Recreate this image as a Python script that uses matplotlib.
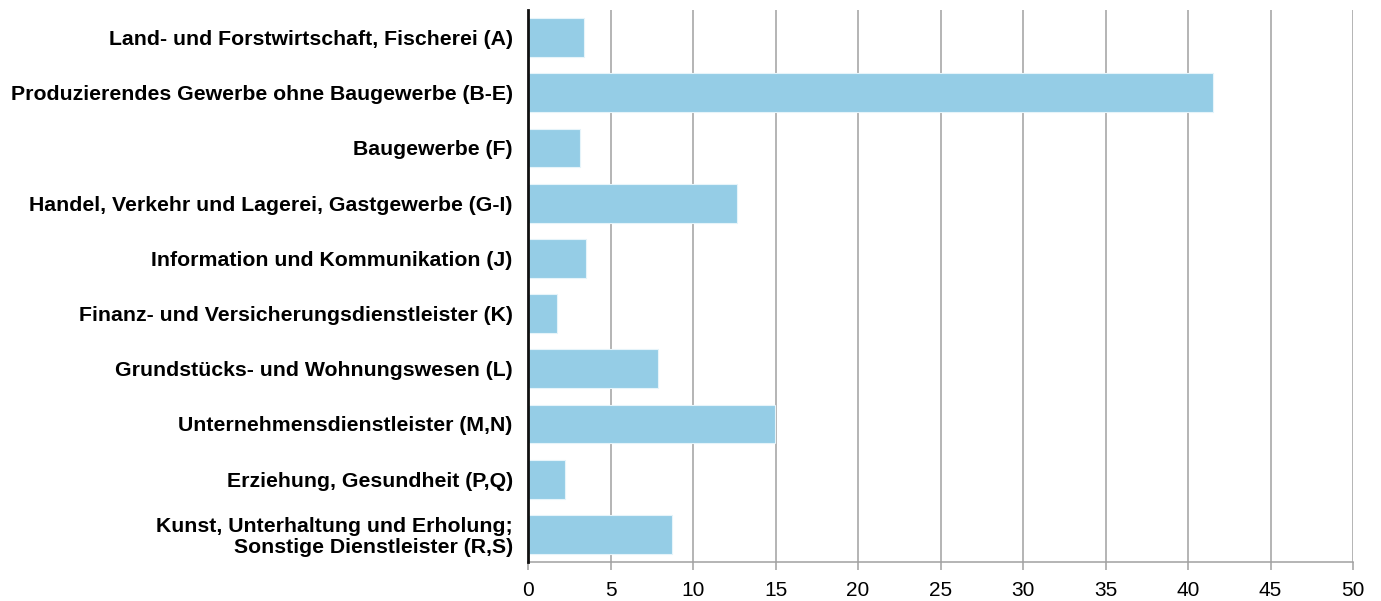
import matplotlib.pyplot as plt

plt.rcParams['font.family'] = ['Liberation Sans', 'DejaVu Sans']

branchen = [
    "Land- und Forstwirtschaft, Fischerei (A)",
    "Produzierendes Gewerbe ohne Baugewerbe (B-E)",
    "Baugewerbe (F)",
    "Handel, Verkehr und Lagerei, Gastgewerbe (G-I)",
    "Information und Kommunikation (J)",
    "Finanz- und Versicherungsdienstleister (K)",
    "Grundstücks- und Wohnungswesen (L)",
    "Unternehmensdienstleister (M,N)",
    "Erziehung, Gesundheit (P,Q)",
    "Kunst, Unterhaltung und Erholung;\nSonstige Dienstleister (R,S)",
]
anteile = [3.4, 41.5, 3.15, 12.65, 3.5, 1.75, 7.9, 14.95, 2.25, 8.7]
x_ticks = [0, 5, 10, 15, 20, 25, 30, 35, 40, 45, 50]

fig = plt.figure(figsize=(13.81, 6.01), dpi=100)
ax = fig.add_axes([528 / 1381, 1 - 562 / 601, 825 / 1381, 552 / 601])

pos = list(range(len(branchen)))
ax.barh(pos, anteile, height=0.7, color="#95cde6", edgecolor="#e6f4fa",
        linewidth=0.8, zorder=2)

ax.set_ylim(len(branchen) - 0.5, -0.5)
ax.set_xlim(0, 50)
ax.set_xticks(x_ticks)
ax.set_xticklabels([str(t) for t in x_ticks], fontsize=15)
ax.set_yticks(pos)
ax.set_yticklabels(branchen, fontsize=15.3, fontweight="bold", linespacing=1.1)

ax.grid(axis="x", color="#a0a0a0", linewidth=1.1, zorder=0)
ax.tick_params(axis="x", length=6, color="#a0a0a0", width=1.1, pad=8)
ax.tick_params(axis="y", length=0, pad=11)

for s in ["top", "right"]:
    ax.spines[s].set_visible(False)
ax.spines["left"].set_color("#111111")
ax.spines["left"].set_linewidth(2)
ax.spines["left"].set_zorder(3)
ax.spines["bottom"].set_color("#a0a0a0")
ax.spines["bottom"].set_linewidth(1.1)

fig.savefig("out.png", dpi=100)
